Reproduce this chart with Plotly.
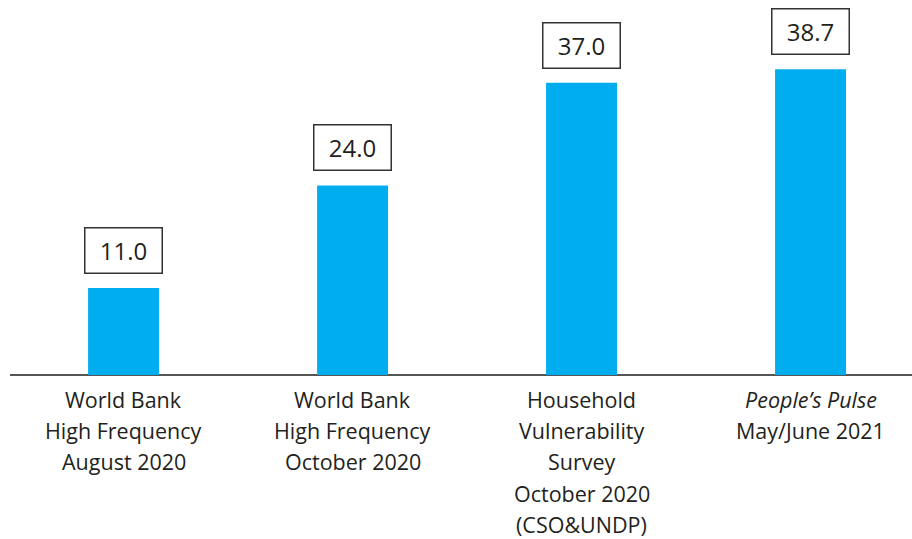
import plotly.graph_objects as go

categories = ["WB_Aug2020", "WB_Oct2020", "HVS_Oct2020", "PP_2021"]
values = [11.0, 24.0, 37.0, 38.7]
value_labels = ["11.0", "24.0", "37.0", "38.7"]
category_lines = [
    ["World Bank", "High Frequency", "August 2020"],
    ["World Bank", "High Frequency", "October 2020"],
    ["Household", "Vulnerability", "Survey", "October 2020", "(CSO&UNDP)"],
    ["<i>People’s Pulse</i>", "May/June 2021"],
]

FONT = "Open Sans"
TEXT_COLOR = "#231f20"
BAR_COLOR = "#00aeef"

fig = go.Figure()
fig.add_trace(go.Bar(
    x=list(range(len(categories))),
    y=values,
    marker=dict(color=BAR_COLOR, line=dict(width=0)),
    width=0.31,
    hoverinfo="skip",
))

annotations = []
for i, (v, lab) in enumerate(zip(values, value_labels)):
    annotations.append(dict(
        x=i, y=v, xref="x", yref="y",
        text=lab, showarrow=False,
        yanchor="bottom", yshift=14,
        width=60, height=28,
        font=dict(family=FONT, size=24, color=TEXT_COLOR),
        bordercolor="#333333", borderwidth=1.5, borderpad=8,
        bgcolor="white",
    ))
    for j, line in enumerate(category_lines[i]):
        annotations.append(dict(
            x=i, y=0, xref="x", yref="y",
            text=line, showarrow=False,
            yanchor="middle", yshift=-(24 + 31.4 * j),
            font=dict(family=FONT, size=21.5, color=TEXT_COLOR),
        ))

fig.update_layout(
    width=912, height=539,
    margin=dict(l=10, r=0, t=0, b=164),
    paper_bgcolor="white", plot_bgcolor="white",
    showlegend=False,
    annotations=annotations,
    xaxis=dict(
        range=[-0.496, 3.443],
        showticklabels=False, showgrid=False, zeroline=False,
        showline=False, ticks="",
    ),
    yaxis=dict(
        range=[0, 47.47],
        showticklabels=False, showgrid=False, zeroline=True,
        zerolinecolor="#555555", zerolinewidth=2, showline=False, ticks="",
    ),
)

fig.write_html(
    "out.html",
    config={"displayModeBar": False},
    post_script="document.body.style.margin='0';document.body.style.overflow='hidden';",
)
